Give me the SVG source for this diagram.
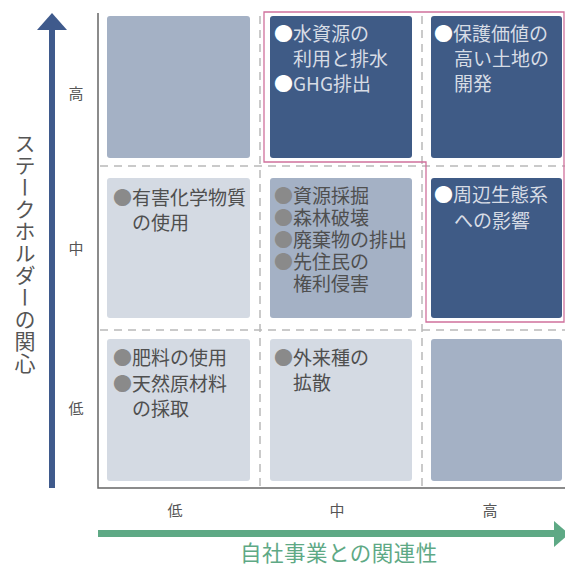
<svg xmlns="http://www.w3.org/2000/svg" width="565" height="572" viewBox="0 0 565 572">
<style>
text{font-family:"Noto Sans CJK JP","Noto Sans",sans-serif;}
.cell-dark{fill:#3f5b86;}
.cell-mid{fill:#a4b1c5;}
.cell-light{fill:#d4dae3;}
.t-dark{font-size:19px;fill:#d7dce5;}
.t-light{font-size:19px;fill:#4f4f4f;}
.b-light{fill:#8a8a8a;}
.b-dark{fill:#ffffff;}
.axlab{font-size:15px;fill:#555;text-anchor:middle;}
.grid{stroke:#b9b9b9;stroke-width:1.5;stroke-dasharray:8 6;fill:none;}
.frame{stroke:#666;stroke-width:1.5;fill:none;}
.hl{stroke:#d0709c;stroke-width:1.3;fill:none;}
</style>

<g id="connectors">
  <line class="grid" x1="260" y1="16" x2="260" y2="488"/>
  <line class="grid" x1="422" y1="16" x2="422" y2="488"/>
  <line class="grid" x1="100" y1="166" x2="565" y2="166"/>
  <line class="grid" x1="100" y1="330" x2="565" y2="330"/>
  <path class="frame" d="M98 13 V488 H565"/>
  <g id="y-arrow">
    <rect x="49" y="28" width="6" height="460" fill="#3f5a8c"/>
    <polygon points="37,30 67,30 52,13" fill="#3f5a8c"/>
  </g>
  <g id="x-arrow">
    <rect x="98" y="530" width="458" height="7" fill="#5ea985"/>
    <polygon points="554,521 554,547 569,534" fill="#5ea985"/>
  </g>
</g>

<g id="cell-r1c1"><rect class="cell-mid" x="107" y="16" width="143" height="142" rx="3"/></g>

<g id="cell-r1c2">
  <rect class="cell-dark" x="270" y="16" width="142" height="142" rx="3"/>
  <text class="t-dark" x="274" y="41"><tspan class="b-dark">●</tspan>水資源の</text>
  <text class="t-dark" x="293" y="66">利用と排水</text>
  <text class="t-dark" x="274" y="91"><tspan class="b-dark">●</tspan>GHG排出</text>
</g>

<g id="cell-r1c3">
  <rect class="cell-dark" x="431" y="16" width="131" height="142" rx="3"/>
  <text class="t-dark" x="434" y="41"><tspan class="b-dark">●</tspan>保護価値の</text>
  <text class="t-dark" x="454" y="66">高い土地の</text>
  <text class="t-dark" x="454" y="91">開発</text>
</g>

<g id="cell-r2c1">
  <rect class="cell-light" x="107" y="178" width="143" height="140" rx="3"/>
  <text class="t-light" x="113" y="205"><tspan class="b-light">●</tspan>有害化学物質</text>
  <text class="t-light" x="132" y="230">の使用</text>
</g>

<g id="cell-r2c2">
  <rect class="cell-mid" x="270" y="178" width="142" height="140" rx="3"/>
  <text class="t-light" x="274" y="203"><tspan class="b-light">●</tspan>資源採掘</text>
  <text class="t-light" x="274" y="225"><tspan class="b-light">●</tspan>森林破壊</text>
  <text class="t-light" x="274" y="247"><tspan class="b-light">●</tspan>廃棄物の排出</text>
  <text class="t-light" x="274" y="269"><tspan class="b-light">●</tspan>先住民の</text>
  <text class="t-light" x="293" y="291">権利侵害</text>
</g>

<g id="cell-r2c3">
  <rect class="cell-dark" x="431" y="178" width="131" height="140" rx="3"/>
  <text class="t-dark" x="434" y="202"><tspan class="b-dark">●</tspan>周辺生態系</text>
  <text class="t-dark" x="454" y="228">への影響</text>
</g>

<g id="cell-r3c1">
  <rect class="cell-light" x="107" y="339" width="143" height="142" rx="3"/>
  <text class="t-light" x="113" y="365"><tspan class="b-light">●</tspan>肥料の使用</text>
  <text class="t-light" x="113" y="391"><tspan class="b-light">●</tspan>天然原材料</text>
  <text class="t-light" x="132" y="416">の採取</text>
</g>

<g id="cell-r3c2">
  <rect class="cell-light" x="270" y="339" width="142" height="142" rx="3"/>
  <text class="t-light" x="274" y="365"><tspan class="b-light">●</tspan>外来種の</text>
  <text class="t-light" x="293" y="390">拡散</text>
</g>

<g id="cell-r3c3"><rect class="cell-mid" x="431" y="339" width="131" height="142" rx="3"/></g>

<g id="highlight">
  <path class="hl" d="M264 12 H564 V322 H426 V162 H264 Z"/>
</g>

<g id="labels">
  <text class="axlab" x="76" y="99">高</text>
  <text class="axlab" x="76" y="254">中</text>
  <text class="axlab" x="76" y="414">低</text>
  <text class="axlab" x="175" y="516">低</text>
  <text class="axlab" x="337" y="516">中</text>
  <text class="axlab" x="490" y="516">高</text>
  <text x="25" y="133" style="writing-mode:vertical-rl;font-size:21px;fill:#555;letter-spacing:1px">ステークホルダーの関心</text>
  <text x="240" y="561" style="font-size:21.5px;fill:#5ea985;letter-spacing:0.5px">自社事業との関連性</text>
</g>
</svg>
